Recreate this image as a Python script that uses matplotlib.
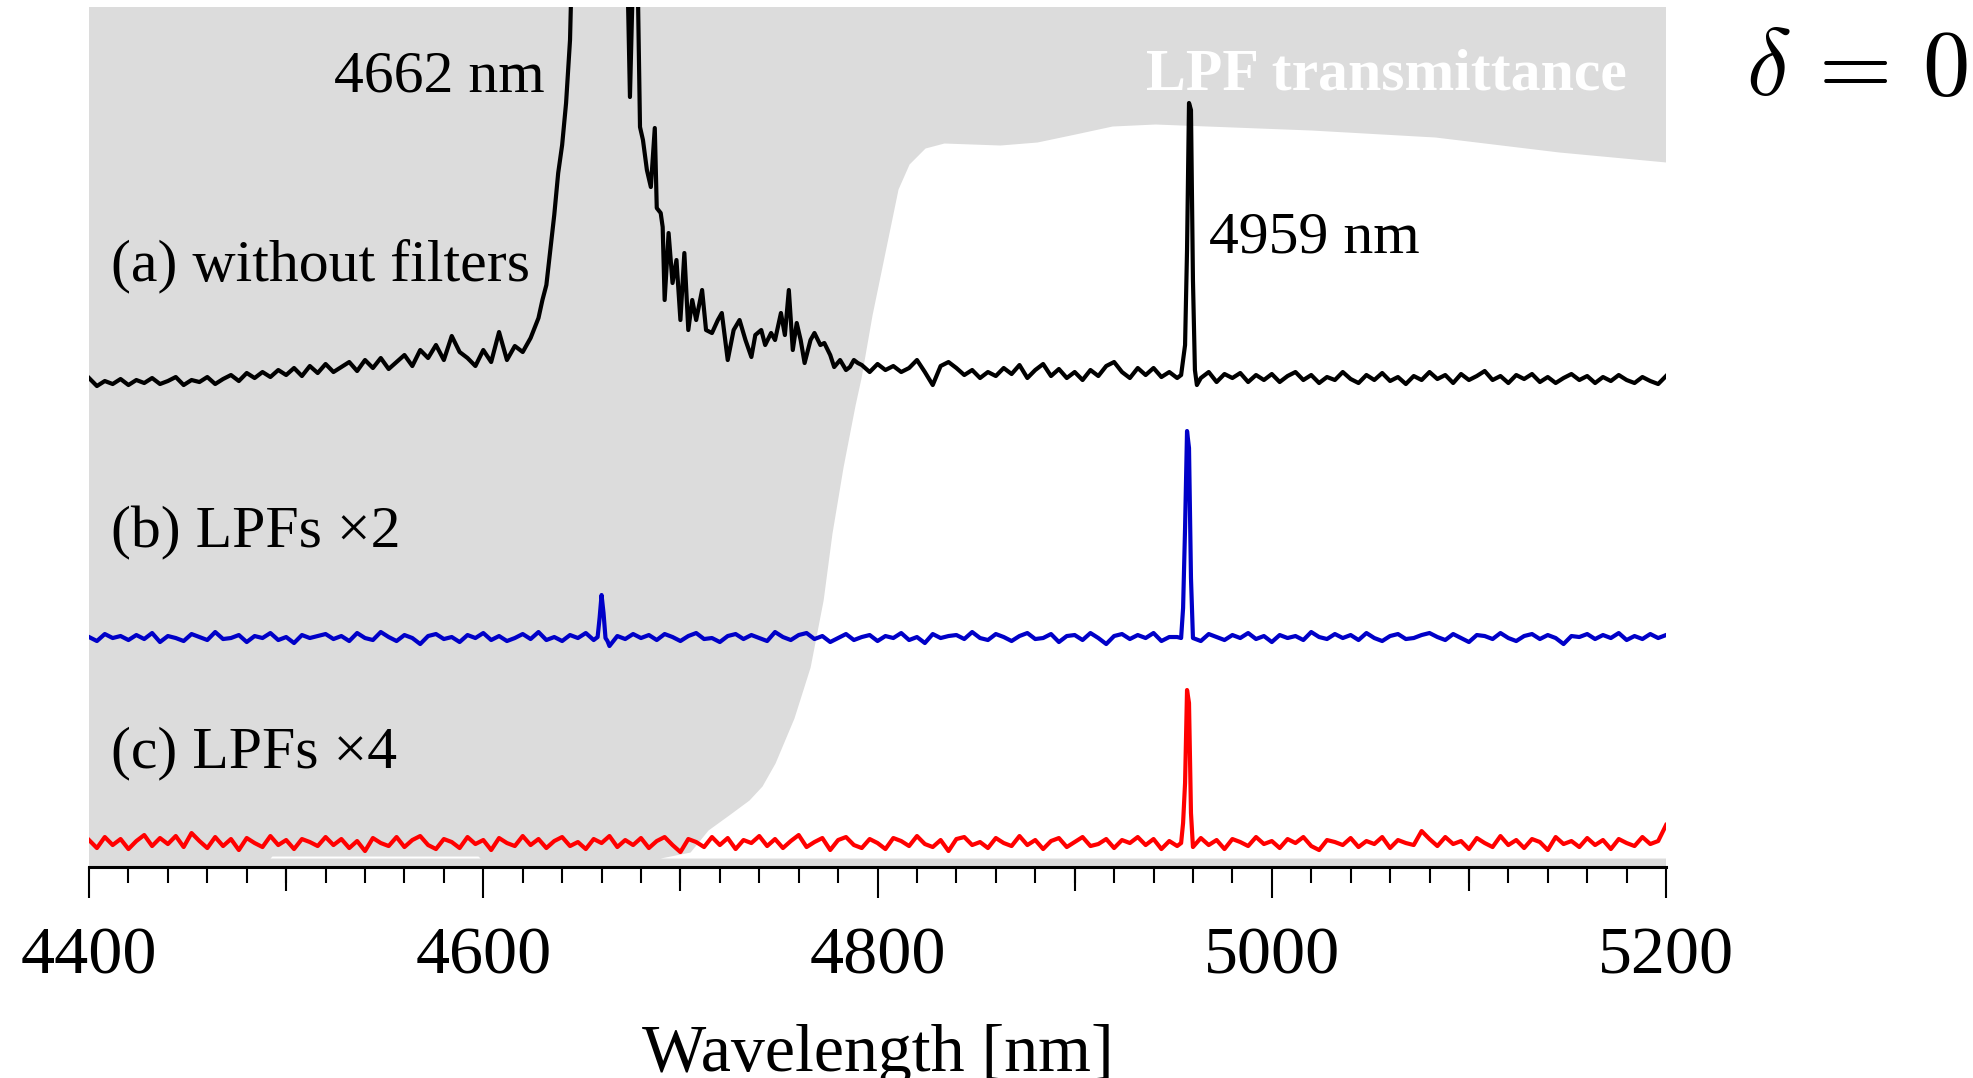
import numpy as np
import matplotlib
matplotlib.use('Agg')
import matplotlib.pyplot as plt

plt.rcParams['font.family'] = ['Liberation Serif', 'DejaVu Serif']
plt.rcParams['mathtext.fontset'] = 'cm'

# stacking offsets of the three spectra (arb. units)
offset_a = 478
offset_b = 220
offset_c = 15

# (a) without filters: left wing on a 4 nm grid 4400..4628
a_left = [2, -6, -1, -4, 1, -5, 0, -3, 2, -4,
          -1, 3, -5, 0, -2, 3, -4, 1, 5, -1,
          7, 2, 8, 3, 10, 5, 12, 4, 14, 7,
          16, 8, 13, 18, 9, 20, 12, 22, 11, 18,
          25, 14, 30, 22, 35, 20, 44, 28, 22, 14,
          30, 18, 48, 20, 34, 28, 42, 62]
# strong 4662 nm line (clipped at the top) and its tail
a_line_wl = [4630, 4632, 4634, 4636, 4638, 4640, 4642, 4644, 4646, 4650,
             4660, 4670, 4673, 4674.4, 4676, 4678.5, 4679.5, 4681, 4683, 4685,
             4687, 4688, 4690, 4691, 4692, 4694, 4696, 4698, 4700, 4702,
             4704, 4706, 4708, 4711, 4713, 4716, 4719, 4721, 4724, 4727,
             4730, 4733, 4736, 4738, 4741, 4743, 4746, 4748, 4751, 4753,
             4755, 4757, 4759, 4761, 4763, 4766, 4768, 4771, 4773, 4776,
             4778, 4781, 4784, 4786, 4788, 4790]
a_line = [80, 95, 130, 165, 207, 235, 277, 340, 500, 800,
          950, 800, 420, 283, 410, 380, 253, 240, 210, 193,
          252, 172, 167, 153, 80, 147, 97, 120, 60, 127,
          50, 80, 60, 90, 50, 47, 60, 67, 20, 50,
          60, 40, 23, 45, 50, 35, 47, 40, 67, 45,
          90, 30, 57, 40, 17, 40, 47, 35, 37, 25,
          13, 20, 10, 13, 20, 17]
# 4 nm grid 4792..4952
a_mid = [15, 8, 16, 10, 14, 8, 12, 20, 8, -5,
         14, 18, 12, 5, 10, 2, 8, 4, 12, 6,
         15, 2, 10, 16, 4, 11, 2, 8, 0, 10,
         4, 14, 18, 8, 2, 12, 5, 12, 3, 8,
         2]
# 4959 nm line
a_peak_wl = [4954, 4956, 4957, 4958, 4959, 4960, 4961, 4962]
a_peak = [5, 35, 130, 277, 270, 100, 10, -5]
# 4 nm grid 4964..5200
a_right = [2, 8, -2, 6, 2, 7, -2, 5, 0, 6,
           -2, 4, 8, 0, 5, -3, 3, 0, 8, 1,
           -3, 5, 0, 7, -1, 3, -4, 4, 0, 8,
           1, 5, -3, 6, 0, 4, 9, 0, 4, -3,
           5, 1, 6, -2, 3, -3, 2, 6, 0, 4,
           -3, 3, -1, 5, 0, -3, 3, -1, -4, 4]

# (b) LPFs x2: 4 nm grid 4400..5200
b_grid = [1, -3, 4, 0, 2, -2, 3, -1, 5, -4,
          2, 0, -3, 4, 1, -2, 6, -1, 0, 3,
          -4, 2, 0, 5, -2, 1, -5, 3, 0, 2,
          4, -1, 2, -3, 5, 0, -2, 6, 1, -3,
          3, 0, -6, 2, 4, -1, 1, -4, 3, 0,
          5, -2, 2, -3, 0, 4, -1, 6, -2, 1,
          -3, 3, 0, 5, -2, 43, -8, 2, -1, 4,
          0, 3, -2, 4, 1, -3, 2, 5, -1, 0,
          -4, 2, 4, -1, 3, 0, -3, 6, 1, -2,
          3, 5, -1, 2, -4, 0, 4, -2, 1, 3,
          -3, 2, 0, 5, -2, 1, -5, 4, 0, 2,
          3, -1, 6, 0, -2, 4, 1, -3, 2, 5,
          -1, 0, 4, -4, 2, 3, -2, 5, 0, -6,
          2, 4, -1, 3, 0, 5, -3, 1, 1, 110,
          0, -3, 4, 1, -2, 3, 0, 5, -1, 2,
          -4, 3, 0, 2, -2, 6, 1, -1, 4, 0,
          3, -2, 5, 0, -3, 2, 4, -1, 0, 3,
          5, 1, -2, 4, 0, -4, 3, 2, -1, 5,
          0, -3, 2, 4, -1, 3, 0, -6, 2, 1,
          4, -1, 3, 0, 5, -2, 2, -1, 4, 0,
          3]
b_extra_wl = [4658, 4659, 4661, 4662, 4663, 4954, 4955, 4957, 4958, 4959]
b_extra = [1, 20, 25, 0, -3, 0, 30, 207, 190, 60]

# (c) LPFs x4: 4 nm grid 4400..5200
c_grid = [3, -5, 6, -2, 4, -6, 2, 8, -3, 5,
          -1, 7, -4, 10, 2, -5, 6, -3, 4, -7,
          5, 0, -4, 7, -2, 3, -6, 4, 1, -3,
          6, -2, 4, -5, 2, -8, 5, 0, -3, 6,
          -4, 3, 7, -2, -6, 4, 1, -5, 6, -1,
          3, -7, 5, 0, -3, 7, -2, 4, -5, 2,
          6, -3, 1, -6, 4, 0, 7, -4, 3, -2,
          5, -5, 2, 6, -2, -9, 4, 1, -4, 6,
          -2, 5, -6, 3, 0, 7, -3, 4, -5, 2,
          8, -4, 1, 5, -7, 3, 6, -2, -5, 4,
          0, -6, 5, 2, -3, 7, -1, -4, 3, -8,
          4, 6, -2, 1, -5, 5, 0, -3, 7, -2,
          3, -6, 2, 5, -4, 1, 6, -3, -1, 4,
          -5, 3, 0, 6, -2, 4, -6, 2, -3, 60,
          -4, 5, -2, 3, -6, 4, 1, -3, 6, -1,
          2, -5, 4, 0, 6, -3, -7, 3, 1, -2,
          5, -4, 2, -1, 6, -5, 3, 0, -2, 12,
          4, -3, 6, -1, 2, -6, 5, 0, -4, 7,
          -2, 3, -5, 4, 1, -7, 6, -1, 2, -4,
          5, -2, 3, -6, 4, 0, -3, 6, -1, 2,
          18]
c_extra_wl = [4954, 4955, 4957, 4958, 4959]
c_extra = [0, 20, 153, 140, 30]

# LPF transmittance (same arb. scale)
lpf_wl = [4400, 4491.8, 4492.8, 4597.3, 4598.4, 4689.7, 4704.9, 4714.0, 4725.2, 4734.8,
          4741.4, 4748.0, 4757.6, 4765.8, 4772.4, 4776.9, 4782.5, 4788.6, 4791.6, 4797.2,
          4803.8, 4810.4, 4816.0, 4824.1, 4833.7, 4862.1, 4880.9, 4900.2, 4919.0, 4940.8,
          5019.9, 5082.8, 5145.7, 5200]
lpf_T = [0, 0, 2, 2, 0, 0, 6, 28, 44, 58,
         72, 95, 140, 191, 258, 325, 391, 453, 480, 543,
         606, 669, 694, 710, 715, 713, 716, 724, 732, 734,
         728, 721, 706, 696]

grid = np.arange(4400, 5201, 4)

a_wl = np.concatenate([np.arange(4400, 4629, 4), a_line_wl, np.arange(4792, 4953, 4),
                       a_peak_wl, np.arange(4964, 5201, 4)])
a_val = np.concatenate([a_left, a_line, a_mid, a_peak, a_right])

b_wl = np.concatenate([grid, b_extra_wl])
b_val = np.concatenate([b_grid, b_extra])
o = np.argsort(b_wl)
b_wl, b_val = b_wl[o], b_val[o]

c_wl = np.concatenate([grid, c_extra_wl])
c_val = np.concatenate([c_grid, c_extra])
o = np.argsort(c_wl)
c_wl, c_val = c_wl[o], c_val[o]

fig = plt.figure(figsize=(19.74, 10.78), dpi=100)
ax = fig.add_axes([0.0451, 0.1957, 0.7989, 0.7978])
ax.set_facecolor('#dcdcdc')
ax.fill_between(lpf_wl, 0, lpf_T, color='white', lw=0, zorder=1)

ax.plot(a_wl, a_val + offset_a, color='black', lw=3.0, zorder=2)
ax.plot(b_wl, b_val + offset_b, color='#0000c8', lw=3.0, zorder=2)
ax.plot(c_wl, c_val + offset_c, color='#ff0000', lw=3.0, zorder=2)

ax.set_xlim(4400, 5200)
ax.set_ylim(-9, 851)

for s in ['top', 'left', 'right']:
    ax.spines[s].set_visible(False)
ax.spines['bottom'].set_linewidth(2.2)
ax.set_yticks([])
ax.set_xticks([4400, 4600, 4800, 5000, 5200])
ax.set_xticks(np.arange(4400, 5201, 20), minor=True)
ax.tick_params(axis='x', which='major', direction='out', length=22, width=1.5,
               labelsize=49, pad=21)
ax.tick_params(axis='x', which='minor', direction='out', length=11.5, width=1.5)

sec = ax.secondary_xaxis('bottom')
sec.set_xticks([4500, 4700, 4900, 5100])
sec.set_xticklabels([])
sec.tick_params(direction='out', length=17, width=1.5)
sec.spines['bottom'].set_visible(False)

ax.set_xlabel('Wavelength [nm]', fontsize=49, labelpad=26)

ax.text(4631, 767, '4662 nm', ha='right', va='baseline', fontsize=43)
ax.text(4411, 578, '(a) without filters', ha='left', va='baseline', fontsize=43)
ax.text(5180, 769, 'LPF transmittance', ha='right', va='baseline', fontsize=43,
        color='white', fontweight='bold')
ax.text(4968, 606, '4959 nm', ha='left', va='baseline', fontsize=43)
ax.text(4411, 311, '(b) LPFs \u00d72', ha='left', va='baseline', fontsize=43)
ax.text(4411, 91, '(c) LPFs \u00d74', ha='left', va='baseline', fontsize=43)

fig.text(0.8845, 0.912, r'$\delta\,=\,0$', fontsize=68, va='baseline', ha='left')

fig.savefig('out.png', dpi=100)
